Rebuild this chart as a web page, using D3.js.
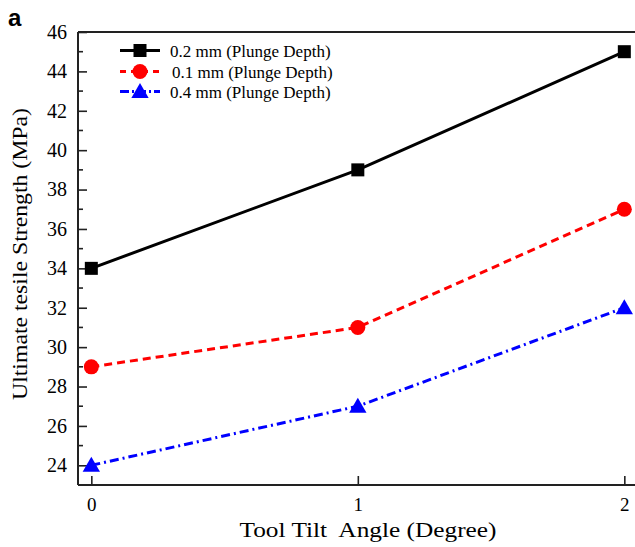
<!DOCTYPE html>
<html>
<head>
<meta charset="utf-8">
<script src="https://cdn.jsdelivr.net/npm/d3@7"></script>
<style>
  html, body { margin: 0; padding: 0; background: #fff; }
  svg { display: block; }
  text { font-family: "Liberation Serif", "Times New Roman", serif; fill: #000; }
</style>
</head>
<body>
<svg id="chart" width="635" height="547"></svg>
<script>
// Tool tilt angle (degree) on x
const tiltAngles = [0, 1, 2];
// Ultimate tensile strength (MPa) for each plunge depth
const depth02 = [34, 39, 45];
const depth01 = [29, 31, 37];
const depth04 = [24, 27, 32];
const seriesNames = ["0.2 mm (Plunge Depth)", "0.1 mm (Plunge Depth)", "0.4 mm (Plunge Depth)"];
const yTicks = [24, 26, 28, 30, 32, 34, 36, 38, 40, 42, 44, 46];
const yMinorTicks = [25, 27, 29, 31, 33, 35, 37, 39, 41, 43, 45];
const xTicks = [0, 1, 2];

const svg = d3.select("#chart");
const plotLeft = 78, plotTop = 32, plotBottom = 485;

const x = d3.scaleLinear().domain([-0.05, 2.04]).range([plotLeft, plotLeft + (2.09 * 266.5)]);
const y = d3.scaleLinear().domain([23, 46]).range([plotBottom, plotTop]);

const series = [
  { name: seriesNames[0], values: depth02, color: "#000000", dash: null, marker: "square" },
  { name: seriesNames[1], values: depth01, color: "#ff0000", dash: "8,5", marker: "circle" },
  { name: seriesNames[2], values: depth04, color: "#0000ff", dash: "9,4,2,4", marker: "triangle" }
];

// frame
svg.append("line").attr("x1", plotLeft).attr("x2", 635).attr("y1", plotTop).attr("y2", plotTop)
  .attr("stroke", "#222").attr("stroke-width", 2);
svg.append("line").attr("x1", plotLeft).attr("x2", 635).attr("y1", plotBottom).attr("y2", plotBottom)
  .attr("stroke", "#222").attr("stroke-width", 2);
svg.append("line").attr("x1", plotLeft).attr("x2", plotLeft).attr("y1", plotTop).attr("y2", plotBottom)
  .attr("stroke", "#222").attr("stroke-width", 2);

// y axis: inward ticks
const yAxis = d3.axisLeft(y).tickValues(yTicks).tickSize(-9).tickPadding(11).tickSizeOuter(0);
const gy = svg.append("g").attr("transform", `translate(${plotLeft},0)`).call(yAxis);
gy.select(".domain").remove();
gy.selectAll(".tick line").attr("stroke", "#222").attr("stroke-width", 1.6);
gy.selectAll(".tick text").style("font-size", "20px").attr("fill", "#000")
  .style("font-family", "'Liberation Serif', serif");
gy.selectAll(".minor").data(yMinorTicks).enter().append("line")
  .attr("x1", 0).attr("x2", 5).attr("y1", d => y(d)).attr("y2", d => y(d))
  .attr("stroke", "#222").attr("stroke-width", 1.6);

// x axis: inward ticks
const xAxis = d3.axisBottom(x).tickValues(xTicks).tickFormat(d3.format("d")).tickSize(-9).tickPadding(13).tickSizeOuter(0);
const gx = svg.append("g").attr("transform", `translate(0,${plotBottom})`).call(xAxis);
gx.select(".domain").remove();
gx.selectAll(".tick line").attr("stroke", "#222").attr("stroke-width", 1.6);
gx.selectAll(".tick text").style("font-size", "19px").attr("fill", "#000")
  .style("font-family", "'Liberation Serif', serif");

// axis titles
svg.append("text").attr("x", 368).attr("y", 537).attr("text-anchor", "middle")
  .style("font-size", "21px").style("white-space", "pre")
  .attr("textLength", 257).attr("lengthAdjust", "spacingAndGlyphs")
  .text("Tool Tilt  Angle (Degree)");
svg.append("text").attr("transform", "translate(27,254) rotate(-90)").attr("text-anchor", "middle")
  .style("font-size", "21px")
  .attr("textLength", 292).attr("lengthAdjust", "spacingAndGlyphs")
  .text("Ultimate tesile Strength (MPa)");

// panel letter
svg.append("text").attr("x", 8).attr("y", 26).style("font-family", "'Liberation Sans', Arial, sans-serif")
  .style("font-weight", "bold").style("font-size", "24px").text("a");

const line = d3.line().x((d, i) => x(tiltAngles[i])).y(d => y(d));

function drawMarker(g, type, cx, cy, color) {
  if (type === "square") {
    g.append("rect").attr("x", cx - 6.5).attr("y", cy - 6.5).attr("width", 13).attr("height", 13).attr("fill", color);
  } else if (type === "circle") {
    g.append("circle").attr("cx", cx).attr("cy", cy).attr("r", 7.5).attr("fill", color);
  } else {
    const s = d3.symbol().type(d3.symbolTriangle).size(130);
    g.append("path").attr("d", s()).attr("transform", `translate(${cx},${cy + 1.5})`).attr("fill", color);
  }
}

series.forEach(s => {
  svg.append("path").datum(s.values).attr("d", line)
    .attr("fill", "none").attr("stroke", s.color).attr("stroke-width", 3)
    .attr("stroke-dasharray", s.dash);
  const g = svg.append("g");
  s.values.forEach((v, i) => drawMarker(g, s.marker, x(tiltAngles[i]), y(v), s.color));
});

// legend
const legendRows = [50.5, 71.5, 91.5];
series.forEach((s, i) => {
  const ly = legendRows[i];
  svg.append("line").attr("x1", 120).attr("x2", 160).attr("y1", ly).attr("y2", ly)
    .attr("stroke", s.color).attr("stroke-width", 3).attr("stroke-dasharray", s.dash ? (i === 1 ? "6,5" : "9,3,2,3") : null);
  drawMarker(svg, s.marker, 140, ly, s.color);
  svg.append("text").attr("x", i === 1 ? 172 : 170).attr("y", ly + 6)
    .style("font-size", "17px").text(s.name);
});
</script>
</body>
</html>
